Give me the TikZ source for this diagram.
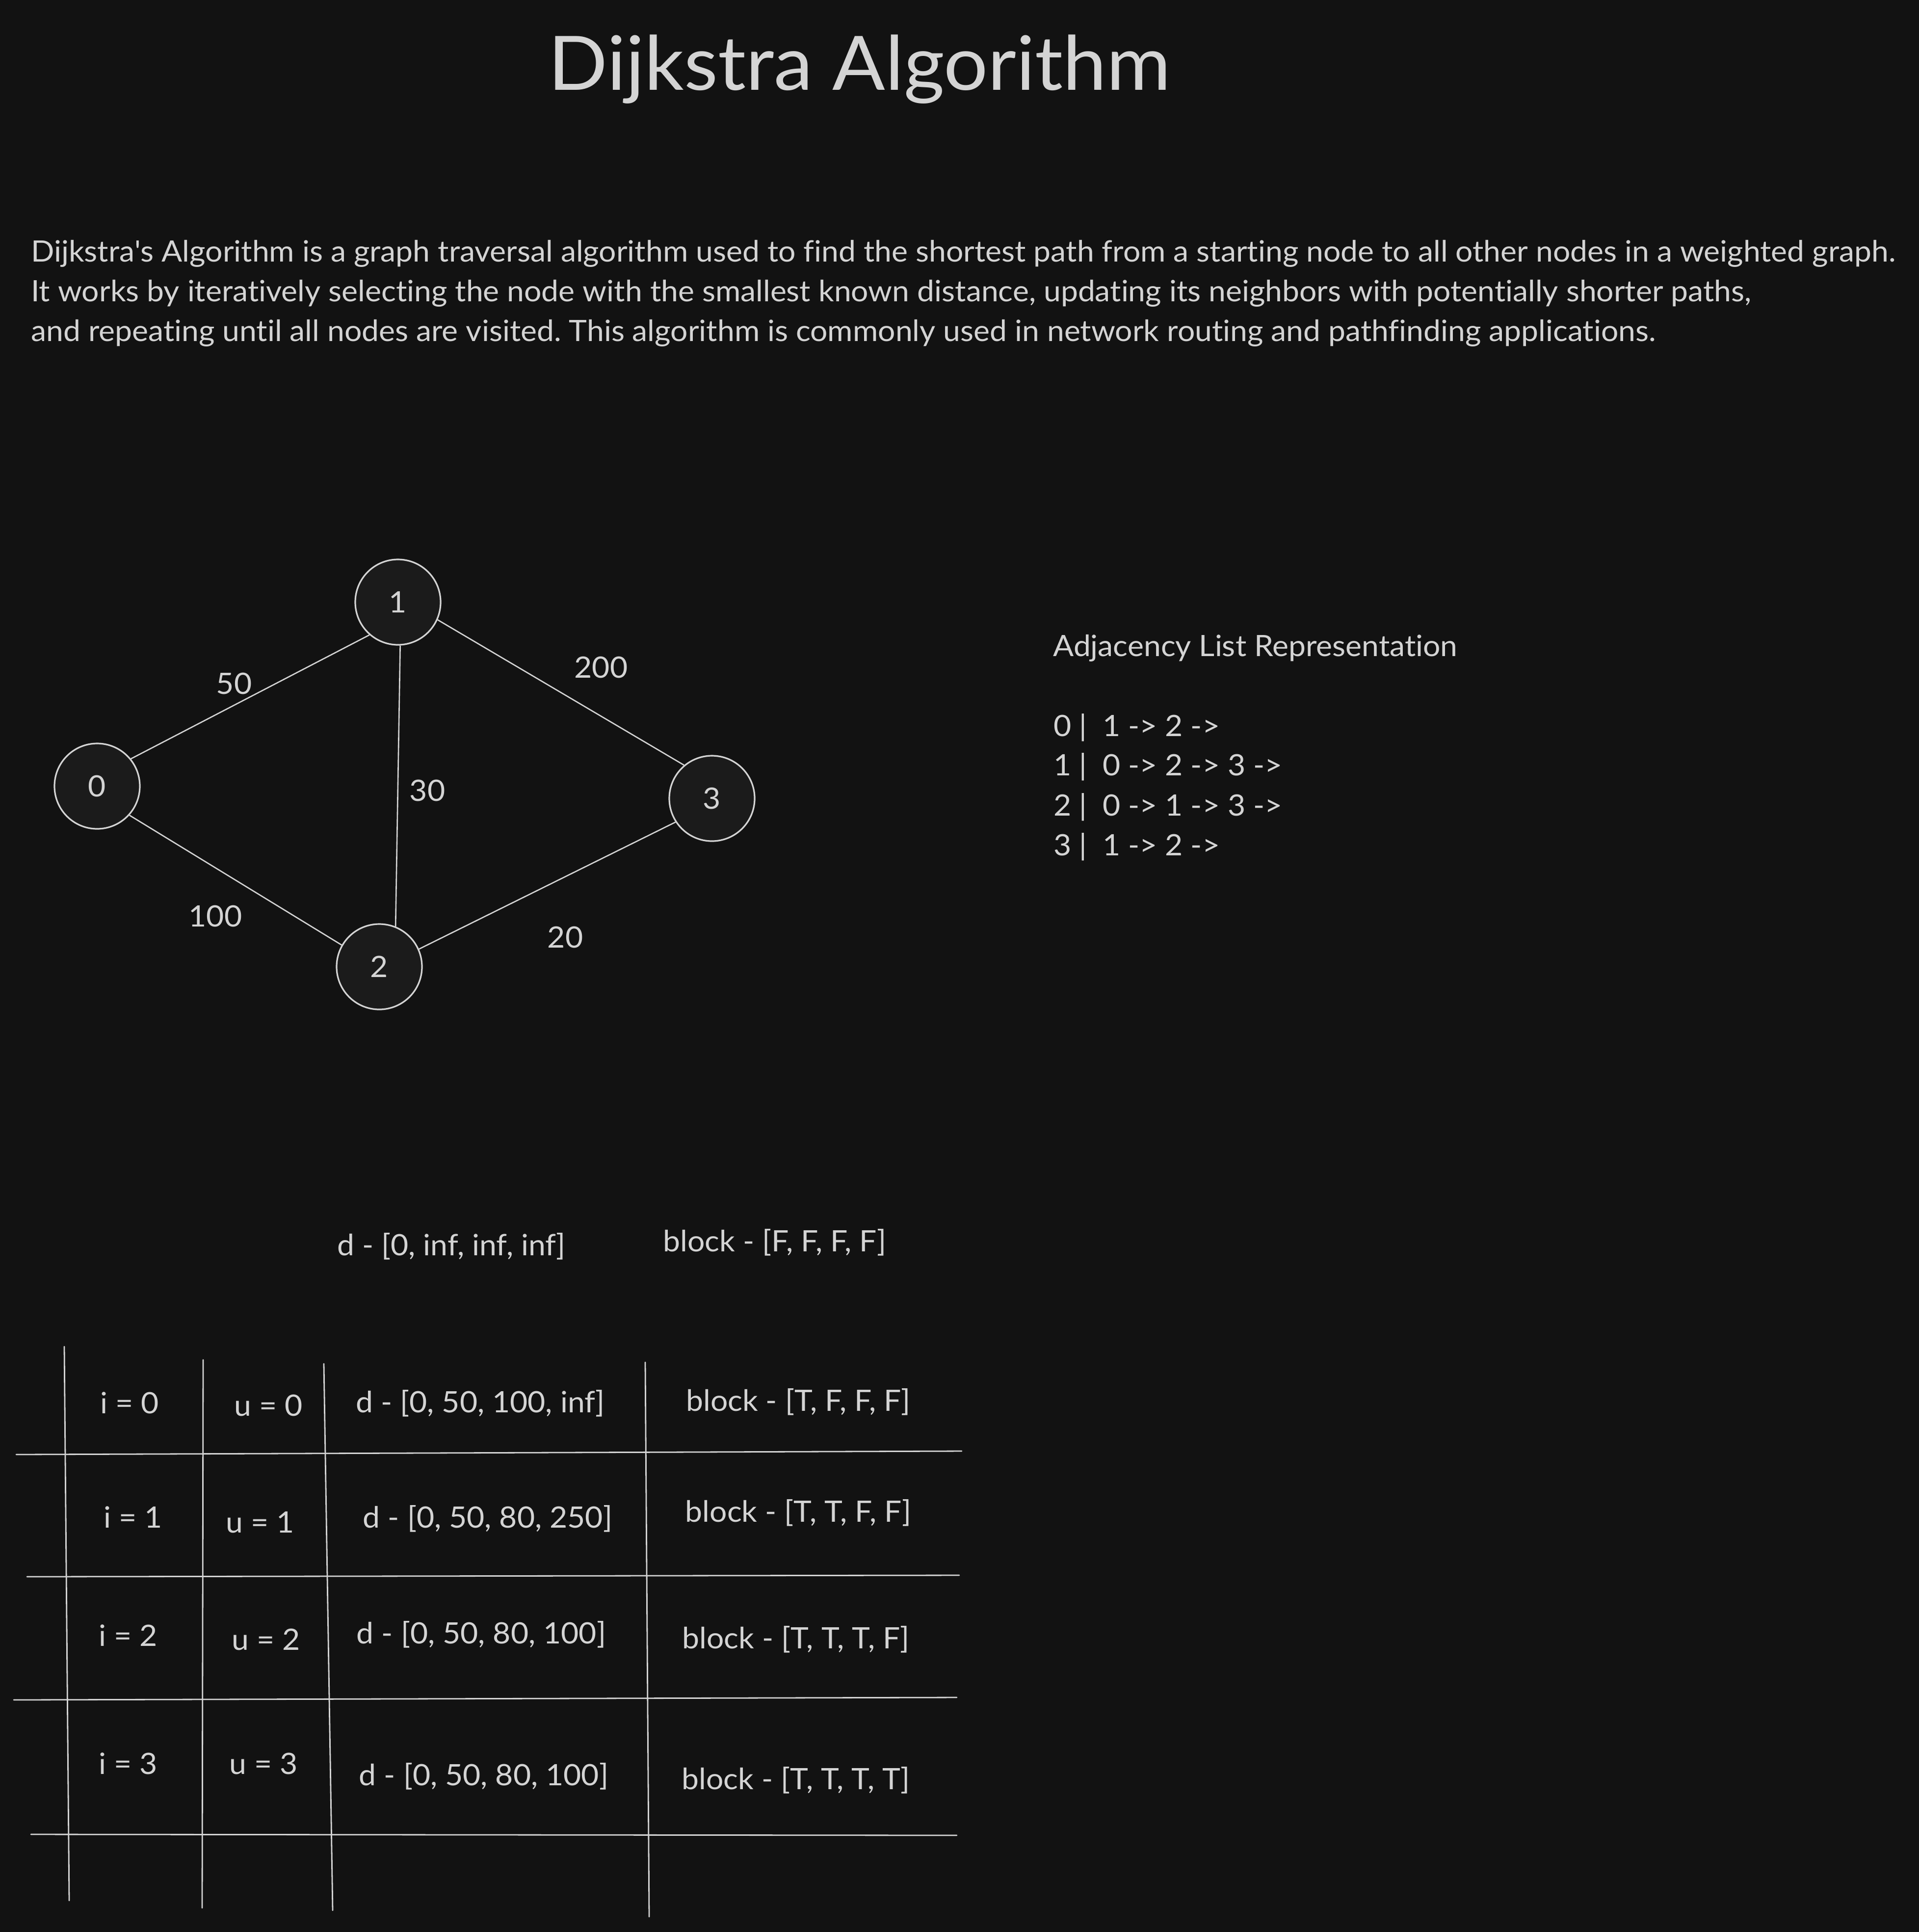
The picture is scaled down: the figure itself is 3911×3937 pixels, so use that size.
\documentclass[tikz,border=0pt]{standalone}
\usepackage{fontspec}
\setmainfont{Lato}[FakeStretch=1.04, Ligatures={TeX,NoCommon}]
\definecolor{bg}{HTML}{121212}
\definecolor{fg}{HTML}{D4D4D4}
\definecolor{nodefill}{HTML}{1B1B1B}
\frenchspacing
\begin{document}
\begin{tikzpicture}[x=0.5pt,y=-0.5pt,
  txt/.style={text=fg, font=\fontsize{30}{36}\selectfont, inner sep=0pt, anchor=base},
  ltxt/.style={txt, anchor=base west},
  titletxt/.style={text=fg, font=\fontsize{76.5}{90}\selectfont, inner sep=0pt, anchor=base},
  vtx/.style={circle, draw=fg, fill=nodefill, line width=1.6pt, minimum size=87pt, inner sep=0pt, text=fg, font=\fontsize{30}{36}\selectfont},
  edgeline/.style={draw=fg, line width=1.3pt},
  rule/.style={draw=fg, line width=1.4pt, line cap=round}]
\fill[bg] (0,0) rectangle (3911,3937);
\useasboundingbox (0,0) rectangle (3911,3937);

% title
\node[titletxt] (title) at (1752,183) {Dijkstra Algorithm};

% paragraph
\node[ltxt] (p1) at (63,533) {Dijkstra\textquotesingle s Algorithm is a graph traversal algorithm used to find the shortest path from a starting node to all other nodes in a weighted graph.};
\node[ltxt] (p2) at (63,614) {It works by iteratively selecting the node with the smallest known distance, updating its neighbors with potentially shorter paths,};
\node[ltxt] (p3) at (63,695) {and repeating until all nodes are visited. This algorithm is commonly used in network routing and pathfinding applications.};

% graph
\node[vtx] (n0) at (198,1602) {0};
\node[vtx] (n1) at (811,1227) {1};
\node[vtx] (n2) at (773,1970) {2};
\node[vtx] (n3) at (1451,1627) {3};
\draw[edgeline] (n0.39) -- (n1.229);
\draw[edgeline] (n1.-24) -- (n3.130);
\draw[edgeline] (n1.-87) -- (n2.68);
\draw[edgeline] (n0.-42) -- (n2.150);
\draw[edgeline] (n2.24) -- (n3.213);
\node[txt] (w01) at (477,1414) {50};
\node[txt] (w13) at (1225,1381) {200};
\node[txt] (w12) at (871,1632) {30};
\node[txt] (w02) at (439,1888) {100};
\node[txt] (w23) at (1152,1931) {20};

% adjacency list
\node[ltxt] (adjt) at (2146,1337) {Adjacency List Representation};
\node[ltxt] (adj0) at (2147,1500) {0 |\ \ 1 -> 2 ->};
\node[ltxt] (adj1) at (2147,1580) {1 |\ \ 0 -> 2 -> 3 ->};
\node[ltxt] (adj2) at (2147,1662) {2 |\ \ 0 -> 1 -> 3 ->};
\node[ltxt] (adj3) at (2147,1743) {3 |\ \ 1 -> 2 ->};

% initial state
\node[txt] (d0) at (920,2558) {d - [0, inf, inf, inf]};
\node[txt] (b0) at (1579,2550) {block - [F, F, F, F]};

% table rules
\draw[rule] (131,2744) -- (141,3873);
\draw[rule] (414,2771) -- (412,3888);
\draw[rule] (660,2779) -- (678,3893);
\draw[rule] (1315,2776) -- (1323,3906);
\draw[rule] (33,2964) -- (1960,2957);
\draw[rule] (55,3213) -- (1955,3210);
\draw[rule] (28,3464) -- (1950,3459);
\draw[rule] (63,3738) -- (1950,3740);

% table cells
\node[txt] (i0) at (264,2880) {i = 0};
\node[txt] (u0) at (547,2885) {u = 0};
\node[txt] (d1) at (979,2878) {d - [0, 50, 100, inf]};
\node[txt] (b1) at (1627,2875) {block - [T, F, F, F]};

\node[txt] (i1) at (271,3113) {i = 1};
\node[txt] (u1) at (530,3123) {u = 1};
\node[txt] (d2) at (994,3113) {d - [0, 50, 80, 250]};
\node[txt] (b2) at (1627,3101) {block - [T, T, F, F]};

\node[txt] (i2) at (261,3354) {i = 2};
\node[txt] (u2) at (542,3362) {u = 2};
\node[txt] (d3) at (981,3349) {d - [0, 50, 80, 100]};
\node[txt] (b3) at (1622,3359) {block - [T, T, T, F]};

\node[txt] (i3) at (261,3615) {i = 3};
\node[txt] (u3) at (537,3615) {u = 3};
\node[txt] (d4) at (986,3638) {d - [0, 50, 80, 100]};
\node[txt] (b4) at (1622,3646) {block - [T, T, T, T]};
\end{tikzpicture}
\end{document}
